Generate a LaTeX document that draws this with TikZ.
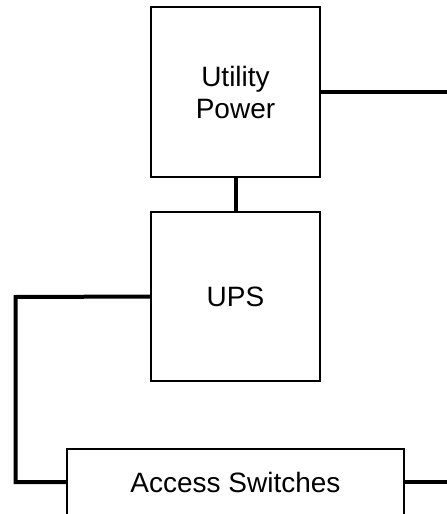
\documentclass[tikz,border=0pt]{standalone}
\usepackage{fontspec}
\setmainfont{Liberation Sans}
\begin{document}
\begin{tikzpicture}[x=1pt,y=-1pt,
  blockbox/.style={draw=black,line width=1.2pt,fill=white,inner sep=0pt,align=center,font=\fontsize{28}{32}\selectfont},
  wire/.style={line width=4pt}]
\useasboundingbox (0,0) rectangle (447,514);
\clip (0,0) rectangle (447,514);
\node[blockbox,minimum width=169pt,minimum height=170pt] (up) at (235.5,92) {Utility\\Power};
\node[blockbox,minimum width=169pt,minimum height=169pt] (ups) at (235.5,296.5) {UPS};
\node[blockbox,minimum width=337pt,minimum height=66pt] (as) at (235.5,482) {Access Switches};
\coordinate (r1) at (450,92);
\coordinate (r2) at (450,482);
\coordinate (lc1) at (15.5,297);
\coordinate (lc2) at (15.5,482);
\draw[wire] (up.east) -- (r1);
\draw[wire] (up.south) -- (ups.north);
\draw[wire,line join=miter] (ups.west) -- (lc1) -- (lc2) -- (as.west);
\draw[wire] (as.east) -- (r2);
\end{tikzpicture}
\end{document}
